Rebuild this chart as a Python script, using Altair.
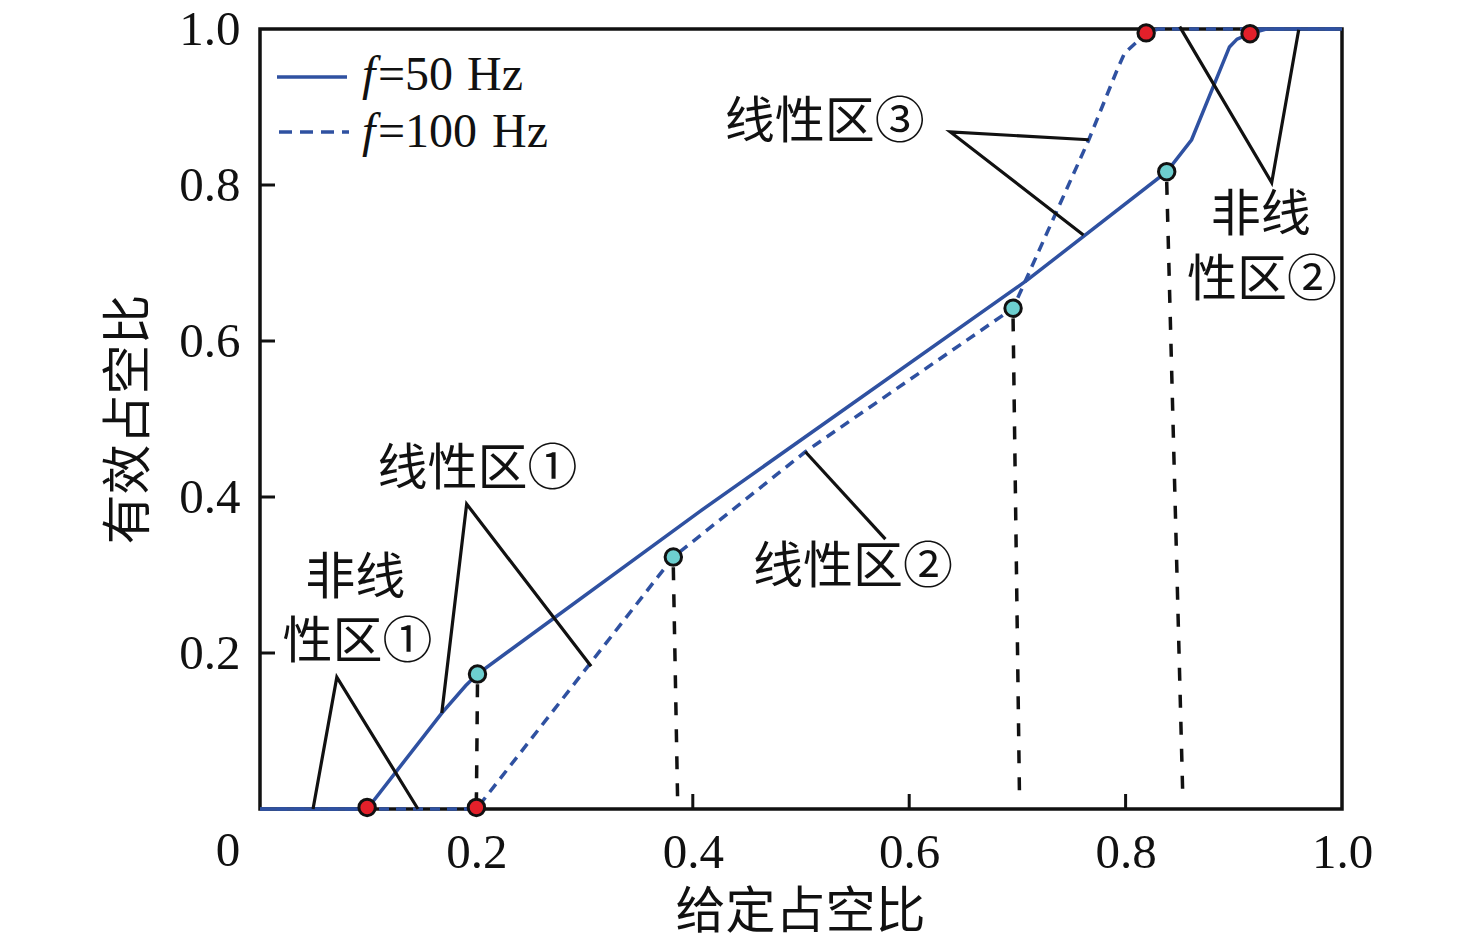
import altair as alt
import pandas as pd

BLUE = "#2f51a1"
RED = "#e3202a"
CYAN = "#6dcfcf"
INK = "#111111"
SERIF = "Liberation Serif"
CJK = "Noto Sans CJK SC"

# ---- data ----
x50 = [0.0, 0.099, 0.168, 0.190, 0.201, 0.406, 0.709, 0.838, 0.861, 0.896, 0.903, 0.915, 0.930, 1.0]
y50 = [0.0, 0.0, 0.123, 0.158, 0.173, 0.381, 0.678, 0.817, 0.858, 0.977, 0.987, 0.994, 1.0, 1.0]

x100 = [0.0, 0.200, 0.382, 0.504, 0.696, 0.709, 0.766, 0.792, 0.799, 0.810, 0.819, 0.830, 1.0]
y100 = [0.0, 0.0, 0.323, 0.458, 0.642, 0.682, 0.858, 0.947, 0.969, 0.983, 0.995, 1.0, 1.0]

red_x = [0.099, 0.200, 0.819, 0.915]
red_y = [0.002, 0.002, 0.995, 0.994]
cyan_x = [0.201, 0.382, 0.696, 0.838]
cyan_y = [0.173, 0.323, 0.642, 0.817]

drop_top_x = [0.201, 0.382, 0.696, 0.838]
drop_top_y = [0.160, 0.310, 0.629, 0.804]
drop_bot_x = [0.200, 0.386, 0.702, 0.853]
drop_bot_y = [0.009, 0.009, 0.009, 0.009]

ptr_x = [[0.049, 0.071, 0.146], [0.168, 0.191, 0.306], [0.504, 0.578],
         [0.766, 0.638, 0.761], [0.850, 0.935, 0.960]]
ptr_y = [[0.0, 0.169, 0.0], [0.123, 0.391, 0.183], [0.458, 0.346],
         [0.858, 0.868, 0.736], [1.003, 0.803, 0.999]]

labels = ["非线", "性区①", "线性区①", "线性区②", "线性区③", "非线", "性区②"]
lab_x = [0.088, 0.090, 0.201, 0.548, 0.522, 0.925, 0.926]
lab_y = [0.295, 0.213, 0.435, 0.309, 0.879, 0.760, 0.677]

tick_vals = [0.2, 0.4, 0.6, 0.8]
axis_vals = [0.2, 0.4, 0.6, 0.8, 1.0]

legend_parts = [["f", "=50", "Hz"], ["f", "=100", "Hz"]]

# ---- tables ----
df50 = pd.DataFrame({"x": x50, "y": y50, "i": range(len(x50))})
df100 = pd.DataFrame({"x": x100, "y": y100, "i": range(len(x100))})
dred = pd.DataFrame({"x": red_x, "y": red_y})
dcyan = pd.DataFrame({"x": cyan_x, "y": cyan_y})
ddrop = pd.DataFrame({"x": drop_top_x, "y": drop_top_y, "x2": drop_bot_x, "y2": drop_bot_y})
rows = []
for g, (xs_, ys_) in enumerate(zip(ptr_x, ptr_y)):
    for k, (a, b) in enumerate(zip(xs_, ys_)):
        rows.append({"x": a, "y": b, "g": g, "k": k})
dptr = pd.DataFrame(rows)
dlab = pd.DataFrame({"x": lab_x, "y": lab_y, "t": labels})
dticks = pd.DataFrame({"v": tick_vals})
dzero = pd.DataFrame({"x": [0.0], "y": [0.0], "t": ["0"]})
one = pd.DataFrame({"a": [0]})

xs = alt.Scale(domain=[0, 1], nice=False, zero=False)
ys = alt.Scale(domain=[0, 1], nice=False, zero=False)
xaxis = alt.Axis(values=axis_vals, format=".1f", title="给定占空比", domain=False, ticks=False,
                 grid=False, labelPadding=19, titleX=540, titleY=103, titleBaseline="middle",
                 titleAlign="center", labelFlush=False)
yaxis = alt.Axis(values=axis_vals, format=".1f", title="有效占空比", domain=False, ticks=False,
                 grid=False, labelPadding=20, titleX=-131, titleY=390, titleBaseline="middle",
                 titleAlign="center", titleAngle=-90, labelFlush=False)
X = alt.X("x:Q", scale=xs, axis=xaxis)
Y = alt.Y("y:Q", scale=ys, axis=yaxis)

line50 = alt.Chart(df50).mark_line(color=BLUE, strokeWidth=3.5).encode(x=X, y=Y, order="i:Q")
line100 = alt.Chart(df100).mark_line(color=BLUE, strokeWidth=3.5, strokeDash=[10, 7]).encode(
    x=X, y=Y, order="i:Q")
drops = alt.Chart(ddrop).mark_rule(color=INK, strokeWidth=3.5, strokeDash=[13, 14]).encode(
    x=X, y=Y, x2="x2:Q", y2="y2:Q")
ptrs = alt.Chart(dptr).mark_line(color=INK, strokeWidth=3.2).encode(
    x=X, y=Y, detail="g:N", order="k:Q")
reds = alt.Chart(dred).mark_point(filled=True, fill=RED, stroke=INK, strokeWidth=3,
                                  size=270, opacity=1, shape="circle").encode(x=X, y=Y)
cyans = alt.Chart(dcyan).mark_point(filled=True, fill=CYAN, stroke=INK, strokeWidth=3,
                                    size=270, opacity=1, shape="circle").encode(x=X, y=Y)
texts = alt.Chart(dlab).mark_text(font=CJK, fontSize=50, color=INK, align="center",
                                  baseline="middle").encode(x=X, y=Y, text="t:N")
zero = alt.Chart(dzero).mark_text(font=SERIF, fontSize=49, color=INK, align="center",
                                  baseline="middle", dx=-32, dy=42).encode(x=X, y=Y, text="t:N")
xt = alt.Chart(dticks).mark_rule(color=INK, strokeWidth=3).encode(
    x=alt.X("v:Q", scale=xs, axis=xaxis), y=alt.value(780), y2=alt.value(765))
yt = alt.Chart(dticks).mark_rule(color=INK, strokeWidth=3).encode(
    y=alt.Y("v:Q", scale=ys, axis=yaxis), x=alt.value(0), x2=alt.value(15))

# manual legend (line samples + text pieces so that "f" can be italic)
leg_layers = [
    alt.Chart(one).mark_rule(color=BLUE, strokeWidth=3.5).encode(
        x=alt.value(17), x2=alt.value(87), y=alt.value(48)),
    alt.Chart(one).mark_rule(color=BLUE, strokeWidth=3.5, strokeDash=[13, 8]).encode(
        x=alt.value(19), x2=alt.value(89), y=alt.value(103)),
]
piece_x = [[102, 118, 207], [102, 118, 232]]
row_y = [61, 118]
for r, parts in enumerate(legend_parts):
    for p, txt in enumerate(parts):
        leg_layers.append(
            alt.Chart(one).mark_text(
                text=txt, font=SERIF, fontStyle="italic" if txt == "f" else "normal",
                fontSize=48, color=INK, align="left", baseline="alphabetic"
            ).encode(x=alt.value(piece_x[r][p]), y=alt.value(row_y[r]))
        )

chart = alt.layer(
    xt, yt, line100, line50, drops, ptrs, texts, zero, reds, cyans, *leg_layers
).properties(
    width=1082, height=780,
    autosize=alt.AutoSizeParams(type="none"),
    padding={"left": 252, "top": 21, "right": 110, "bottom": 131},
).configure_view(
    stroke=INK, strokeWidth=3.5
).configure_axis(
    labelFont=SERIF, labelFontSize=49, labelColor=INK,
    titleFont=CJK, titleFontSize=50, titleColor=INK, titleFontWeight="normal"
)

chart.save("out.html", embed_options={"renderer": "svg", "actions": False})
